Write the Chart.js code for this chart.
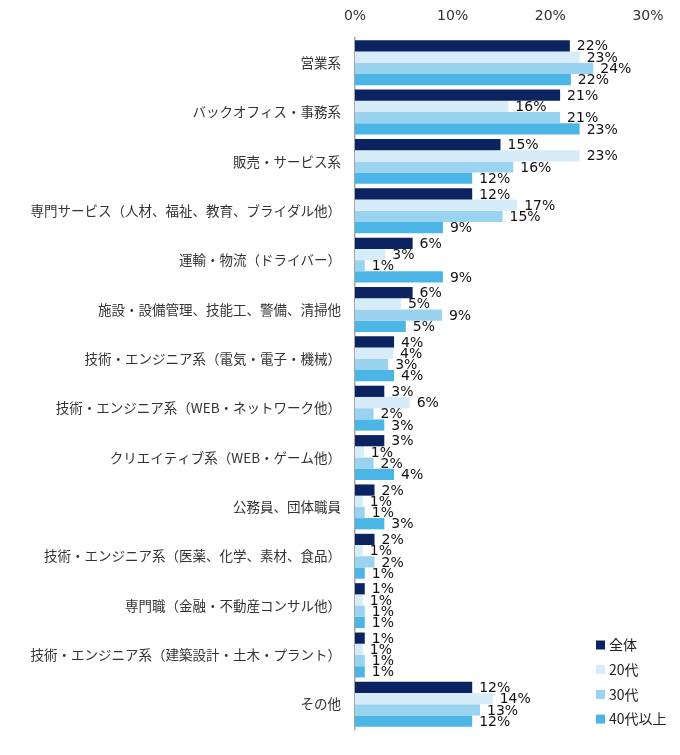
<!DOCTYPE html>
<html>
<head>
<meta charset="utf-8">
<script src="https://cdn.jsdelivr.net/npm/chart.js@4/dist/chart.umd.min.js"></script>
<style>
  html, body { margin: 0; padding: 0; background: #fff; }
  #wrap { width: 680px; height: 755px; }
</style>
</head>
<body>
<div id="wrap"><canvas id="chart" width="680" height="755"></canvas></div>
<script>
const categories = [
    '営業系',
    'バックオフィス・事務系',
    '販売・サービス系',
    '専門サービス（人材、福祉、教育、ブライダル他）',
    '運輸・物流（ドライバー）',
    '施設・設備管理、技能工、警備、清掃他',
    '技術・エンジニア系（電気・電子・機械）',
    '技術・エンジニア系（WEB・ネットワーク他）',
    'クリエイティブ系（WEB・ゲーム他）',
    '公務員、団体職員',
    '技術・エンジニア系（医薬、化学、素材、食品）',
    '専門職（金融・不動産コンサル他）',
    '技術・エンジニア系（建築設計・土木・プラント）',
    'その他',
];
const seriesNames = ['全体', '20代', '30代', '40代以上'];
const zentai = [22.0, 21.0, 14.9, 12.0, 5.9, 5.9, 4.0, 3.0, 3.0, 2.0, 2.0, 1.0, 1.0, 12.0];
const age20  = [23.0, 15.7, 23.0, 16.6, 3.1, 4.7, 3.9, 5.6, 0.9, 0.8, 0.8, 0.8, 0.8, 14.1];
const age30  = [24.4, 21.0, 16.2, 15.1, 1.0, 8.9, 3.4, 1.9, 1.9, 1.0, 2.0, 1.0, 1.0, 12.8];
const age40  = [22.1, 23.0, 12.0, 9.0, 9.0, 5.2, 4.0, 3.0, 4.0, 3.0, 1.0, 1.0, 1.0, 12.0];
const xTicks = [0, 10, 20, 30];

const colors = ['#0b2461', '#d6ecf8', '#9ad3f0', '#4bb5e6'];

// value labels just past the end of each bar
const valueLabels = {
    id: 'valueLabels',
    afterDatasetsDraw(chart) {
        const ctx = chart.ctx;
        ctx.save();
        ctx.font = '14px "DejaVu Sans", Verdana, sans-serif';
        ctx.fillStyle = '#111';
        ctx.textAlign = 'left';
        ctx.textBaseline = 'middle';
        chart.data.datasets.forEach((ds, di) => {
            chart.getDatasetMeta(di).data.forEach((bar, i) => {
                ctx.fillText(Math.round(ds.data[i]) + '%', bar.x + 7, bar.y + 1);
            });
        });
        ctx.restore();
    },
};

// small legend in the lower right corner of the plot
const cornerLegend = {
    id: 'cornerLegend',
    afterDraw(chart) {
        const ctx = chart.ctx;
        const x0 = 596, y0 = 645, step = 24.7;
        ctx.save();
        ctx.font = '14px "Noto Sans CJK JP", sans-serif';
        ctx.textBaseline = 'middle';
        ctx.textAlign = 'left';
        chart.data.datasets.forEach((ds, i) => {
            const y = y0 + i * step;
            ctx.fillStyle = ds.backgroundColor;
            ctx.fillRect(x0, y - 4.5, 9, 9);
            ctx.fillStyle = '#222';
            ctx.fillText(ds.label, x0 + 13, y);
        });
        ctx.restore();
    },
};

new Chart(document.getElementById('chart'), {
    type: 'bar',
    data: {
        labels: categories,
        datasets: [zentai, age20, age30, age40].map((d, i) => ({
            label:           seriesNames[i],
            data:            d,
            backgroundColor: colors[i],
            borderWidth:     0,
            categoryPercentage: 0.91,
            barPercentage:   1.0,
        })),
    },
    options: {
        indexAxis: 'y',
        responsive: false,
        animation: false,
        layout: { padding: { left: 0, right: 32, top: 0, bottom: 26 } },
        plugins: {
            legend:  { display: false },
            tooltip: { enabled: false },
        },
        scales: {
            x: {
                position: 'top',
                min: 0,
                max: 30,
                afterBuildTicks: (axis) => { axis.ticks = xTicks.map(v => ({ value: v })); },
                afterFit: (axis) => { axis.height = 38; },
                ticks: {
                    color: '#333',
                    padding: 13,
                    font: { family: '"DejaVu Sans", Verdana, sans-serif', size: 14 },
                    callback: (v) => v + '%',
                },
                grid:   { display: false, drawTicks: false },
                border: { display: false },
            },
            y: {
                afterFit: (axis) => { axis.width = 355; },
                ticks: {
                    color: '#333',
                    padding: 14,
                    font: { family: '"Noto Sans CJK JP", sans-serif', size: 13.5 },
                },
                grid:   { display: false, drawTicks: false },
                border: { display: true, color: '#a6a6a6', width: 1.5 },
            },
        },
    },
    plugins: [valueLabels, cornerLegend],
});
</script>
</body>
</html>
